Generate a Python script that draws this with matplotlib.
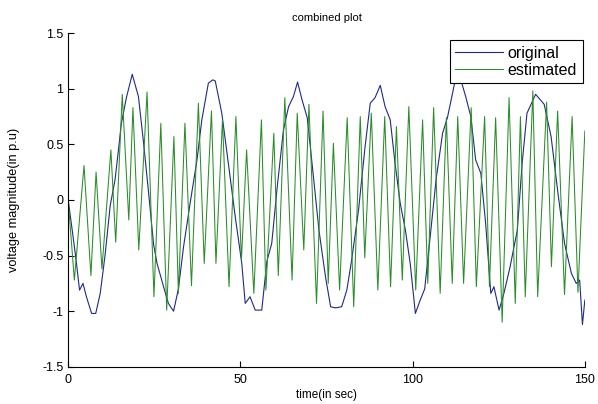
import numpy as np
import matplotlib
matplotlib.use('Agg')
import matplotlib.pyplot as plt

plt.rcParams['font.family'] = ['Liberation Sans', 'DejaVu Sans']

# original signal (time in sec, voltage in p.u)
orig_t = [0, 1.3, 2.3, 3.3, 4.3, 5.3, 6.8, 8.0, 9.3, 10.7, 12.2, 13.6, 14.6, 15.4,
          16.9, 18.6, 20.4, 21.9, 23.3, 24.8, 25.8, 27.7, 29.1, 30.6, 32.0, 33.5,
          35.4, 37.4, 38.8, 40.7, 42.0, 42.7, 44.6, 46.5, 48.5, 50.4, 51.4, 52.8,
          54.3, 56.2, 57.7, 59.1, 60.6, 62.5, 64.0, 65.4, 66.6, 67.9, 69.4, 70.8,
          72.8, 74.7, 76.2, 77.6, 79.4, 80.9, 82.3, 84.3, 86.2, 87.7, 89.1, 90.6,
          92.0, 93.5, 94.9, 96.4, 97.9, 99.3, 100.8, 102.2, 103.5, 104.9, 106.8,
          108.7, 110.1, 111.6, 113.0, 114.0, 115.4, 116.9, 118.3, 119.8, 121.2,
          122.7, 123.6, 125.1, 126.5, 128.3, 130.4, 131.8, 133.2, 135.7, 138.2,
          140.2, 142.2, 144.1, 146.1, 147.5, 148.5, 149.3, 150.0]
orig_v = [0.0, -0.30, -0.54, -0.81, -0.75, -0.87, -1.02, -1.02, -0.84, -0.50, -0.05,
          0.18, 0.45, 0.68, 0.92, 1.13, 0.93, 0.51, 0.08, -0.40, -0.57, -0.78, -0.93,
          -1.00, -0.80, -0.42, -0.03, 0.36, 0.72, 1.05, 1.08, 1.07, 0.78, 0.33, -0.15,
          -0.57, -0.93, -0.87, -0.99, -0.99, -0.55, -0.39, 0.09, 0.63, 0.84, 0.93,
          1.06, 0.90, 0.74, 0.33, -0.27, -0.69, -0.96, -0.97, -0.96, -0.81, -0.54,
          -0.09, 0.48, 0.87, 0.92, 1.03, 0.84, 0.72, 0.33, -0.03, -0.27, -0.57, -1.02,
          -0.90, -0.80, -0.39, 0.18, 0.60, 0.74, 0.96, 1.18, 1.08, 0.93, 0.75, 0.36,
          0.24, -0.21, -0.84, -0.78, -0.99, -0.84, -0.60, -0.27, 0.33, 0.78, 0.95,
          0.86, 0.57, 0.06, -0.39, -0.66, -0.75, -0.72, -1.12, -0.90]

# estimated signal, peaks and troughs
est_t = [0, 1.8, 4.6, 6.6, 8.1, 9.8, 12.4, 13.8, 15.7, 17.6, 18.8, 20.5, 22.9, 24.9,
         26.9, 28.6, 30.7, 32.0, 33.9, 35.8, 37.8, 39.5, 41.6, 42.9, 44.8, 46.7,
         48.7, 50.3, 51.8, 53.9, 56.1, 57.4, 59.7, 61.0, 62.9, 65.0, 66.5, 68.4,
         69.9, 72.1, 74.0, 75.5, 77.0, 78.8, 81.0, 82.9, 84.8, 86.1, 88.0, 89.9,
         91.9, 93.6, 95.3, 97.0, 98.9, 100.9, 102.9, 104.4, 106.1, 108.0, 109.8,
         111.5, 113.1, 114.8, 117.0, 118.5, 120.9, 122.3, 124.1, 126.0, 128.0,
         129.8, 131.3, 132.7, 134.9, 136.3, 138.9, 140.3, 142.1, 144.1, 146.3,
         148.0, 150.0]
est_v = [0.0, -0.72, 0.31, -0.68, 0.25, -0.62, 0.45, -0.38, 0.95, -0.18, 0.83, -0.45,
         0.97, -0.87, 0.69, -0.99, 0.57, -0.84, 0.69, -0.77, 0.87, -0.57, 0.80, -0.57,
         0.72, -0.78, 0.75, -0.54, 0.45, -0.84, 0.72, -0.81, 0.60, -0.68, 0.92, -0.72,
         0.78, -0.45, 0.86, -0.93, 0.80, -0.75, 0.51, -0.81, 0.74, -0.96, 0.75, -0.52,
         0.78, -0.81, 0.75, -0.78, 0.66, -0.72, 0.84, -0.81, 0.72, -0.75, 0.83, -0.84,
         0.74, -0.75, 0.75, -0.75, 0.83, -0.78, 0.75, -0.78, 0.74, -1.10, 0.92, -0.93,
         0.75, -0.87, 0.98, -0.87, 0.88, -0.60, 0.80, -0.85, 0.75, -0.83, 0.62]

xticks = [0, 50, 100, 150]
yticks = [-1.5, -1, -0.5, 0, 0.5, 1, 1.5]
ytick_labels = ['-1.5', '-1', '-0.5', '0', '0.5', '1', '1.5']

fig = plt.figure(figsize=(5.98, 4.04), dpi=100)
ax = fig.add_axes([0.114, 0.092, 0.864, 0.826])
ax.plot(orig_t, orig_v, color='#1f2a85', lw=0.8, label='original')
ax.plot(est_t, est_v, color='#2a8c2a', lw=0.75, label='estimated')

ax.set_xlim(0, 150)
ax.set_ylim(-1.5, 1.5)
ax.set_xticks(xticks)
ax.set_yticks(yticks)
ax.set_yticklabels(ytick_labels)
ax.tick_params(direction='in', length=4, labelsize=9, width=0.8)
ax.tick_params(axis='x', pad=5)
ax.spines['top'].set_visible(False)
ax.spines['right'].set_visible(False)
ax.set_title('combined plot', fontsize=8, pad=9)
ax.set_xlabel('time(in sec)', fontsize=8.5, labelpad=2)
ax.set_ylabel('voltage magnitude(in p.u)', fontsize=9.2, labelpad=16)

leg = ax.legend(loc='upper right', bbox_to_anchor=(0.996, 0.979), borderaxespad=0,
                fontsize=11.5, fancybox=False, framealpha=1, edgecolor='black',
                handlelength=3.0, borderpad=0.35, labelspacing=0.12, handletextpad=0.3)
leg.get_frame().set_linewidth(0.8)

plt.savefig('out.png', dpi=100)
